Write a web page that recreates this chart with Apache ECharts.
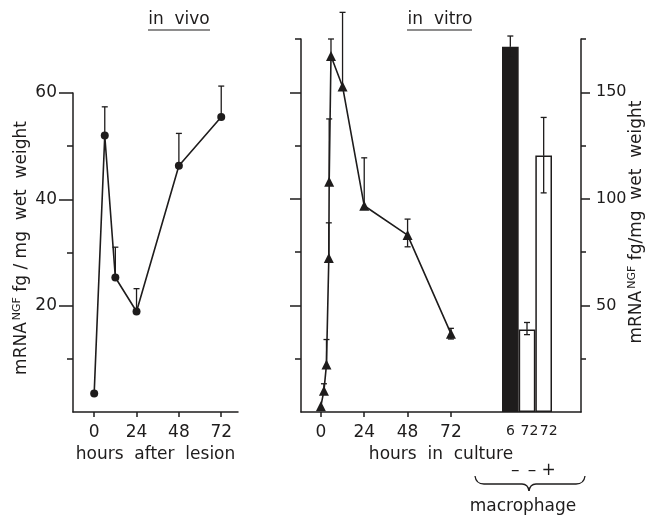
<!DOCTYPE html>
<html>
<head>
<meta charset="utf-8">
<script src="https://cdn.jsdelivr.net/npm/echarts@6/dist/echarts.min.js"></script>
<style>
  html, body { margin: 0; padding: 0; background: #fff; }
  #chart { width: 646px; height: 515px; }
</style>
</head>
<body>
<div id="chart"></div>
<script>
// in vivo: hours after lesion
const vivoHours = [0, 6, 12, 24, 48, 72];
const vivoMean = [3.5, 52, 25.3, 18.9, 46.3, 55.5];
const vivoErrUp = [0, 5.4, 5.7, 4.3, 6.1, 5.8];

// in vitro: hours in culture
const vitroHours = [0, 1.7, 3.1, 4.4, 4.6, 5.6, 12, 24, 48, 72];
const vitroMean = [1.1, 4.0, 8.9, 28.9, 43.2, 66.8, 61.1, 38.7, 33.2, 14.7];
const vitroErrUp = [0, 1.3, 4.7, 6.6, 11.8, 3.2, 13.9, 9.0, 3.0, 1.0];
const vitroErrDown = [0, 0, 0, 0, 0, 0, 0, 0, 2.2, 1.0];

// bars (right axis)
const barHours = ['6', '72', '72'];
const barMacrophage = ['\u2013', '\u2013', '+'];
const barMean = [171.4, 38.7, 120.3];
const barErrUp = [5, 3.3, 17.9];
const barErrDown = [5, 2.4, 17.5];

const hourTicks = [0, 24, 48, 72];
const leftMajorTicks = [20, 40, 60];
const leftMinorTicks = [10, 30, 50];
const vitroMinorTicks = [10, 30, 50, 70];
const rightMajorTicks = [50, 100, 150];
const rightMinorTicks = [25, 75, 125, 175];

const ink = '#1e1c1c';
const font = 'DejaVu Sans';

function errRender(params, api) {
  const x = api.value(0), y = api.value(1), up = api.value(2), dn = api.value(3);
  const mid = api.coord([x, y]);
  const top = api.coord([x, y + up]);
  const bot = api.coord([x, y - dn]);
  const st = { stroke: ink, lineWidth: 1.3 };
  const kids = [];
  if (up > 0) {
    kids.push({ type: 'line', shape: { x1: mid[0], y1: mid[1], x2: top[0], y2: top[1] }, style: st });
    kids.push({ type: 'line', shape: { x1: top[0] - 3, y1: top[1], x2: top[0] + 3, y2: top[1] }, style: st });
  }
  if (dn > 0) {
    kids.push({ type: 'line', shape: { x1: mid[0], y1: mid[1], x2: bot[0], y2: bot[1] }, style: st });
    kids.push({ type: 'line', shape: { x1: bot[0] - 3, y1: bot[1], x2: bot[0] + 3, y2: bot[1] }, style: st });
  }
  return { type: 'group', children: kids };
}

const axisLine = { show: true, onZero: false, lineStyle: { color: ink, width: 1.5 } };
const noLine = { show: false, onZero: false };
const lbl = { color: ink, fontFamily: font, fontSize: 17 };
const tickStyle = { color: ink, width: 1.5 };

const chart = echarts.init(document.getElementById('chart'), null, { renderer: 'canvas' });
chart.setOption({
  backgroundColor: '#fff',
  animation: false,
  grid: [
    { left: 73, top: 93, width: 165, height: 319 },
    { left: 301, top: 39, width: 280, height: 373 },
    { left: 502, top: 39, width: 50, height: 373 }
  ],
  xAxis: [
    {
      gridIndex: 0, type: 'value', min: -12, max: 81.5,
      axisLine: axisLine, splitLine: { show: false },
      axisTick: { show: true, customValues: hourTicks, length: 5, lineStyle: tickStyle },
      axisLabel: Object.assign({ customValues: hourTicks, margin: 12 }, lbl),
      name: 'hours  after  lesion', nameLocation: 'middle', nameGap: 31,
      nameTextStyle: lbl
    },
    {
      gridIndex: 1, type: 'value', min: -11, max: 144,
      axisLine: axisLine, splitLine: { show: false },
      axisTick: { show: true, customValues: hourTicks, length: 5, lineStyle: tickStyle },
      axisLabel: Object.assign({ customValues: hourTicks, margin: 12 }, lbl),
      name: 'hours  in  culture', nameLocation: 'middle', nameGap: 31,
      nameTextStyle: lbl
    },
    {
      gridIndex: 2, type: 'category',
      data: barHours.map((h, i) => ({ value: h, textStyle: { padding: [0, 0, 0, i * 5] } })),
      axisLine: noLine, axisTick: { show: false }, splitLine: { show: false },
      axisLabel: { interval: 0, margin: 12, color: ink, fontFamily: font, fontSize: 14 }
    },
    {
      gridIndex: 2, type: 'category',
      data: barMacrophage.map((m) => ({ value: m, textStyle: { padding: [0, 0, 0, 10] } })),
      position: 'bottom', offset: 40,
      axisLine: noLine, axisTick: { show: false }, splitLine: { show: false },
      axisLabel: { interval: 0, margin: 10, color: ink, fontFamily: font, fontSize: 17 }
    }
  ],
  yAxis: [
    {
      gridIndex: 0, type: 'value', min: 0, max: 60, position: 'left',
      axisLine: axisLine, splitLine: { show: false },
      axisTick: { show: true, customValues: leftMajorTicks, length: 14, lineStyle: tickStyle },
      axisLabel: Object.assign({ customValues: leftMajorTicks, margin: 16 }, lbl)
    },
    {
      gridIndex: 0, type: 'value', min: 0, max: 60, position: 'left',
      axisLine: noLine, splitLine: { show: false },
      axisTick: { show: true, customValues: leftMinorTicks, length: 6, lineStyle: tickStyle },
      axisLabel: { show: false }
    },
    {
      gridIndex: 1, type: 'value', min: 0, max: 70, position: 'left',
      axisLine: axisLine, splitLine: { show: false },
      axisTick: { show: true, customValues: leftMajorTicks, length: 11, lineStyle: tickStyle },
      axisLabel: { show: false }
    },
    {
      gridIndex: 1, type: 'value', min: 0, max: 70, position: 'left',
      axisLine: noLine, splitLine: { show: false },
      axisTick: { show: true, customValues: vitroMinorTicks, length: 6, lineStyle: tickStyle },
      axisLabel: { show: false }
    },
    {
      gridIndex: 1, type: 'value', min: 0, max: 175, position: 'right',
      axisLine: axisLine, splitLine: { show: false },
      axisTick: { show: true, customValues: rightMajorTicks, length: 9, lineStyle: tickStyle },
      axisLabel: Object.assign({ customValues: rightMajorTicks, margin: 15 }, lbl, { fontSize: 16 })
    },
    {
      gridIndex: 1, type: 'value', min: 0, max: 175, position: 'right',
      axisLine: noLine, splitLine: { show: false },
      axisTick: { show: true, customValues: rightMinorTicks, length: 5, lineStyle: tickStyle },
      axisLabel: { show: false }
    },
    { gridIndex: 2, type: 'value', min: 0, max: 175, show: false }
  ],
  series: [
    {
      type: 'line', xAxisIndex: 0, yAxisIndex: 0,
      data: vivoHours.map((h, i) => [h, vivoMean[i]]),
      symbol: 'circle', symbolSize: 8,
      lineStyle: { color: ink, width: 1.6 }, itemStyle: { color: ink }
    },
    {
      type: 'custom', xAxisIndex: 0, yAxisIndex: 0, renderItem: errRender,
      data: vivoHours.map((h, i) => [h, vivoMean[i], vivoErrUp[i], 0])
    },
    {
      type: 'line', xAxisIndex: 1, yAxisIndex: 2,
      data: vitroHours.map((h, i) => [h, vitroMean[i]]),
      symbol: 'triangle', symbolSize: 10,
      lineStyle: { color: ink, width: 1.6 }, itemStyle: { color: ink }
    },
    {
      type: 'custom', xAxisIndex: 1, yAxisIndex: 2, renderItem: errRender,
      data: vitroHours.map((h, i) => [h, vitroMean[i], vitroErrUp[i], vitroErrDown[i]])
    },
    {
      type: 'bar', xAxisIndex: 2, yAxisIndex: 6, barCategoryGap: 0, barWidth: '100%',
      data: barMean.map((v, i) => ({
        value: v,
        itemStyle: i === 0
          ? { color: ink, borderColor: ink, borderWidth: 1.5 }
          : { color: '#fff', borderColor: ink, borderWidth: 1.5 }
      }))
    },
    {
      type: 'custom', xAxisIndex: 2, yAxisIndex: 6, renderItem: errRender, z: 5,
      data: barMean.map((v, i) => [i, v, barErrUp[i], barErrDown[i]])
    }
  ],
  graphic: [
    { type: 'text', x: 179, y: 20, style: { text: 'in  vivo', font: '17px "DejaVu Sans"', fill: ink, align: 'center', verticalAlign: 'middle' } },
    { type: 'line', shape: { x1: 148, y1: 30, x2: 210, y2: 30 }, style: { stroke: ink, lineWidth: 1.2 } },
    { type: 'text', x: 440, y: 20, style: { text: 'in  vitro', font: '17px "DejaVu Sans"', fill: ink, align: 'center', verticalAlign: 'middle' } },
    { type: 'line', shape: { x1: 407, y1: 30, x2: 472, y2: 30 }, style: { stroke: ink, lineWidth: 1.2 } },
    {
      type: 'text', x: 22, y: 248, rotation: Math.PI / 2,
      style: {
        text: '{a|mRNA}{s|NGF}{a| fg / mg  wet  weight}', align: 'center', verticalAlign: 'middle',
        rich: {
          a: { fontFamily: font, fontSize: 17, fill: ink },
          s: { fontFamily: font, fontSize: 11, fill: ink, padding: [0, 0, 10, 2] }
        }
      }
    },
    {
      type: 'text', x: 637, y: 222, rotation: Math.PI / 2,
      style: {
        text: '{a|mRNA}{s|NGF}{a| fg/mg  wet  weight}', align: 'center', verticalAlign: 'middle',
        rich: {
          a: { fontFamily: font, fontSize: 17, fill: ink },
          s: { fontFamily: font, fontSize: 11, fill: ink, padding: [0, 0, 10, 2] }
        }
      }
    },
    { type: 'bezierCurve', shape: { x1: 475, y1: 476, cpx1: 476, cpy1: 484, x2: 484, y2: 484 }, style: { stroke: ink, lineWidth: 1.3, fill: null } },
    { type: 'line', shape: { x1: 484, y1: 484, x2: 522, y2: 484 }, style: { stroke: ink, lineWidth: 1.3 } },
    { type: 'bezierCurve', shape: { x1: 522, y1: 484, cpx1: 528, cpy1: 484, x2: 529, y2: 491 }, style: { stroke: ink, lineWidth: 1.3, fill: null } },
    { type: 'bezierCurve', shape: { x1: 529, y1: 491, cpx1: 530, cpy1: 484, x2: 536, y2: 484 }, style: { stroke: ink, lineWidth: 1.3, fill: null } },
    { type: 'line', shape: { x1: 536, y1: 484, x2: 576, y2: 484 }, style: { stroke: ink, lineWidth: 1.3 } },
    { type: 'bezierCurve', shape: { x1: 576, y1: 484, cpx1: 584, cpy1: 484, x2: 585, y2: 476 }, style: { stroke: ink, lineWidth: 1.3, fill: null } },
    { type: 'text', x: 523, y: 507, style: { text: 'macrophage', font: '17px "DejaVu Sans"', fill: ink, align: 'center', verticalAlign: 'middle' } }
  ]
});
</script>
</body>
</html>
